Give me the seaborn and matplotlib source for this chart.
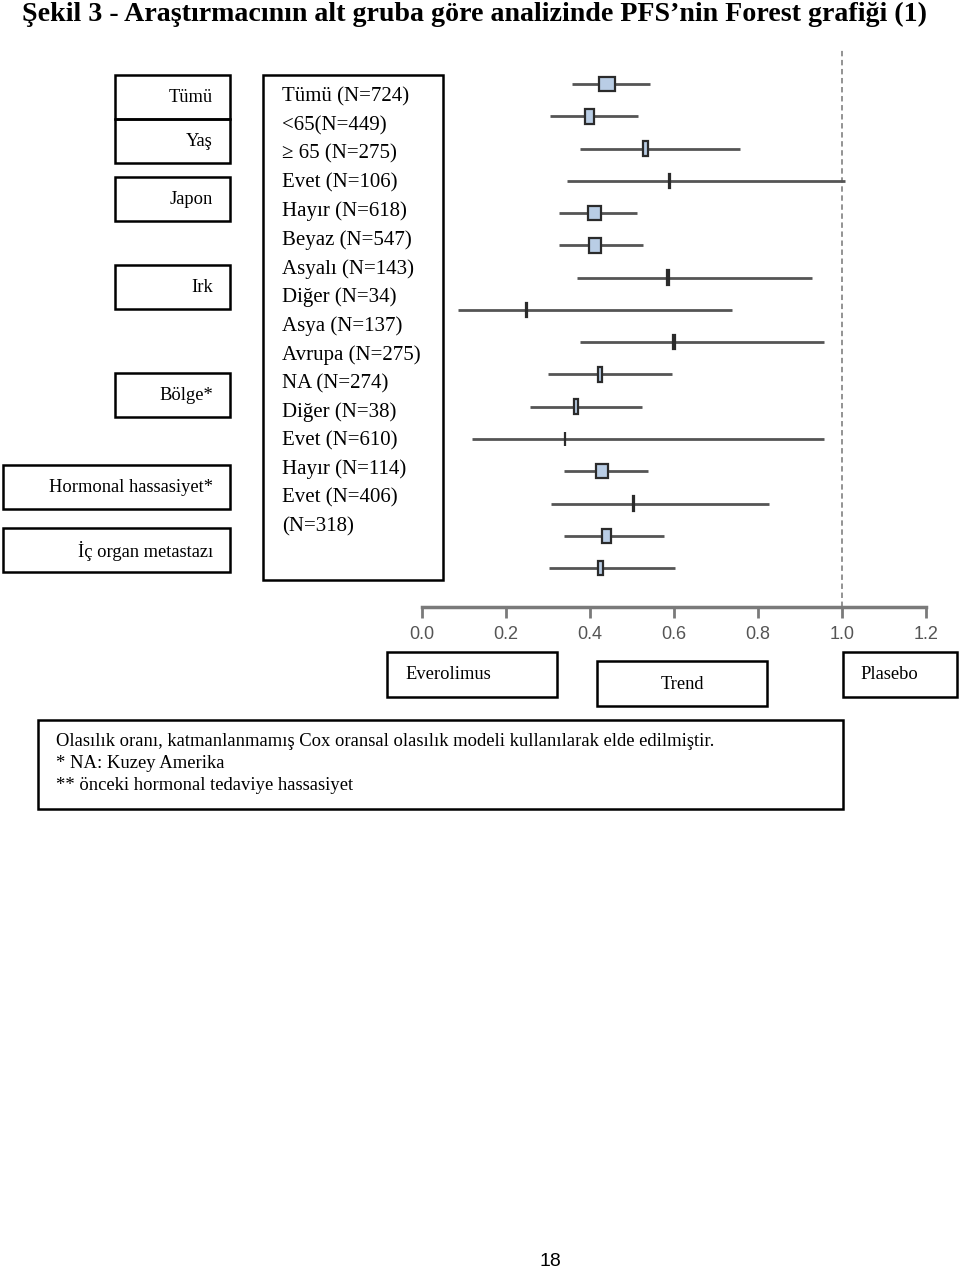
import numpy as np
import pandas as pd
import matplotlib
matplotlib.use("Agg")
import matplotlib.pyplot as plt
import seaborn as sns
from matplotlib.patches import Rectangle

# ---------------- data ----------------
title = "Şekil 3 - Araştırmacının alt gruba göre analizinde PFS’nin Forest grafiği (1)"
groups = ["Tümü", "Yaş", "Japon", "Irk", "Bölge*", "Hormonal hassasiyet*", "İç organ metastazı"]
subgroups = ["Tümü (N=724)", "<65(N=449)", "≥ 65 (N=275)", "Evet (N=106)", "Hayır (N=618)",
             "Beyaz (N=547)", "Asyalı (N=143)", "Diğer (N=34)", "Asya (N=137)",
             "Avrupa (N=275)", "NA (N=274)", "Diğer (N=38)", "Evet (N=610)",
             "Hayır (N=114)", "Evet (N=406)", "(N=318)"]
hr = [0.440, 0.398, 0.532, 0.590, 0.410, 0.412, 0.585, 0.249,
      0.600, 0.424, 0.367, 0.340, 0.428, 0.503, 0.440, 0.425]
ci_low = [0.358, 0.305, 0.375, 0.345, 0.325, 0.325, 0.370, 0.086,
          0.377, 0.301, 0.258, 0.120, 0.338, 0.306, 0.338, 0.302]
ci_high = [0.542, 0.515, 0.756, 1.007, 0.512, 0.526, 0.928, 0.737,
           0.957, 0.596, 0.523, 0.956, 0.537, 0.827, 0.575, 0.603]
xticks = [0.0, 0.2, 0.4, 0.6, 0.8, 1.0, 1.2]
legend_labels = ["Everolimus", "Trend", "Plasebo"]
footnotes = ["Olasılık oranı, katmanlanmamış Cox oransal olasılık modeli kullanılarak elde edilmiştir.",
             "* NA: Kuzey Amerika",
             "** önceki hormonal tedaviye hassasiyet"]
page_number = "18"

df = pd.DataFrame({"label": subgroups, "hr": hr, "lo": ci_low, "hi": ci_high})
df["row"] = np.arange(len(df))
# inverse-variance weight (from CI on log scale) drives box width
df["w"] = 1.0 / (np.log(df["hi"] / df["lo"]) ** 2)

# ---------------- style ----------------
sns.set_theme(style="white")
SERIF = ["Liberation Serif", "DejaVu Serif"]
SANS = ["Liberation Sans", "DejaVu Sans"]
plt.rcParams["font.family"] = SERIF

W, H = 960, 1271
fig = plt.figure(figsize=(W / 100, H / 100), dpi=100)
fig.patch.set_facecolor("white")

# overlay in pixel coordinates for boxes / texts
ov = fig.add_axes([0, 0, 1, 1])
ov.set_xlim(0, W)
ov.set_ylim(H, 0)
ov.axis("off")

def box(x0, y0, x1, y1, lw=1.8):
    ov.add_patch(Rectangle((x0, y0), x1 - x0, y1 - y0, fill=False,
                           edgecolor="black", linewidth=lw))

# title
ov.text(22, 14, title, fontsize=20.2, fontweight="bold", family=SERIF,
        ha="left", va="center", color="black")

# group boxes (left)
group_boxes = [(115, 75, 230, 119), (115, 119, 230, 163), (115, 177, 230, 221),
               (115, 265, 230, 309), (115, 373, 230, 417), (3, 465, 230, 509),
               (3, 528, 230, 572)]
for g, (x0, y0, x1, y1) in zip(groups, group_boxes):
    box(x0, y0, x1, y1)
    ov.text(213, (y0 + y1) / 2 + 1, g, fontsize=13.3, family=SERIF,
            ha="right", va="center", color="black")

# subgroup label box
box(263, 75, 443, 580)
for i, s in enumerate(subgroups):
    ov.text(282, 97 + 28.65 * i, s, fontsize=15, family=SERIF,
            ha="left", va="center", color="black")

# legend boxes
legend_boxes = [(387, 652, 557, 697, 405, "left"), (597, 661, 767, 706, 682, "center"),
                (843, 652, 957, 697, 860, "left")]
for lab, (x0, y0, x1, y1, tx, ha) in zip(legend_labels, legend_boxes):
    box(x0, y0, x1, y1)
    ov.text(tx, (y0 + y1) / 2 if ha == "left" else (y0 + y1) / 2 + 1, lab,
            fontsize=13.3, family=SERIF, ha=ha, va="center", color="black")

# footnote box
box(38, 720, 843, 809)
for i, t in enumerate(footnotes):
    ov.text(56, 742 + 21.5 * i, t, fontsize=13.4, family=SERIF,
            ha="left", va="center", color="black")

ov.text(550, 1261, page_number, fontsize=14, family=SANS, ha="center",
        va="center", color="black")

# ---------------- forest axes ----------------
x_left, x_right = 422, 926
y_top, y_bot = 48, 607
ax = fig.add_axes([x_left / W, (H - y_bot) / H, (x_right - x_left) / W, (y_bot - y_top) / H])
ax.set_facecolor("none")
row_px = 32.27
ax.set_xlim(0, 1.2)
ax.set_ylim((y_bot - 84) / row_px, -(84 - y_top) / row_px)

px_per_unit = (x_right - x_left) / 1.2
k = 2.93  # px per weight unit
box_w = np.maximum(df["w"] * k - 1.5, 0.2) / px_per_unit
box_h = 14.5 / row_px

ax.axvline(1.0, color="#8a8a8a", linestyle=(0, (3, 2)), linewidth=1.3, zorder=1)
ax.hlines(df["row"], df["lo"], df["hi"], color="#555555", linewidth=2.0, zorder=2)
ax.barh(df["row"], box_w, left=df["hr"] - box_w / 2, height=box_h,
        color="#b9cde5", edgecolor="#2b2b2b", linewidth=1.6, zorder=3)

sns.despine(ax=ax, left=True, top=True, right=True, bottom=False)
ax.spines["bottom"].set_color("#7a7a7a")
ax.spines["bottom"].set_linewidth(2.5)
ax.set_yticks([])
ax.set_xticks(xticks)
ax.set_xticklabels([f"{t:.1f}" for t in xticks], fontsize=13, family=SANS, color="#555555")
ax.tick_params(axis="x", direction="out", length=8, width=2, color="#7a7a7a", pad=6, bottom=True)
ax.grid(False)

fig.savefig("out.png", dpi=100, facecolor="white")
